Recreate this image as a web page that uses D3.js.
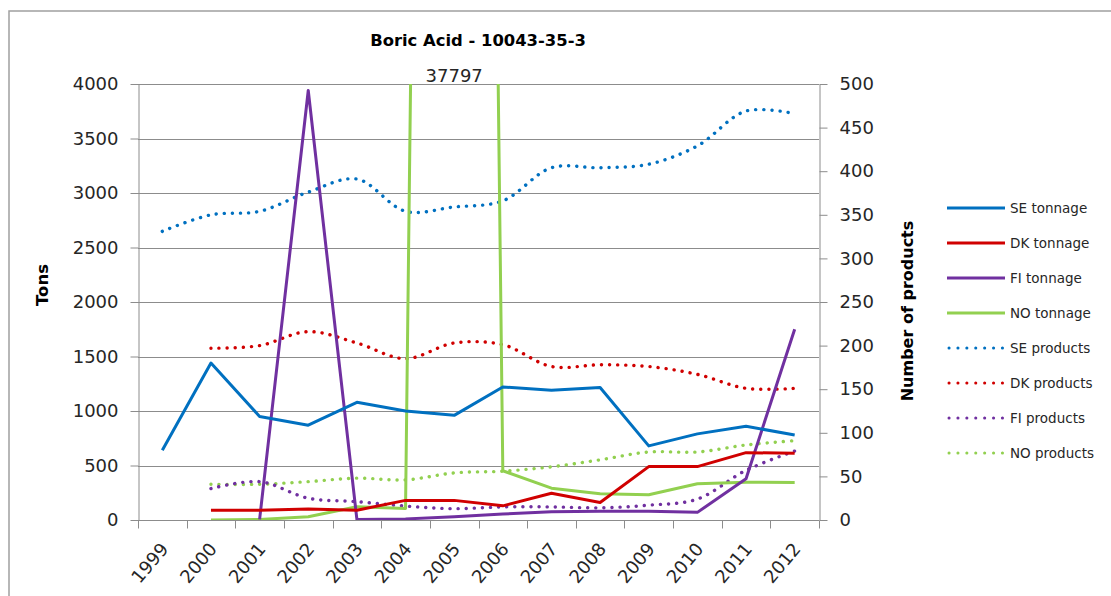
<!DOCTYPE html>
<html>
<head>
<meta charset="utf-8">
<script src="https://cdn.jsdelivr.net/npm/d3@7"></script>
<style>
body { margin: 0; background: #fff; }
svg { font-family: "DejaVu Sans", sans-serif; }
</style>
</head>
<body>
<svg id="chart" width="1111" height="596"></svg>
<script>
// years on the category axis
var years = ['1999', '2000', '2001', '2002', '2003', '2004', '2005', '2006',
	'2007', '2008', '2009', '2010', '2011', '2012'];

// tonnage, left axis (null = no value)
var seTonnage = [640, 1440, 950, 870, 1080, 1000, 960, 1220, 1190, 1215, 680, 790, 860, 780];
var dkTonnage = [null, 90, 90, 100, 90, 180, 180, 130, 245, 160, 490, 490, 618, 612];
var fiTonnage = [null, null, 5, 3940, 5, 10, 30, 55, 75, 80, 80, 70, 378, 1750];
var noTonnage = [null, 0, 5, 30, 122, 105, 37797, 452, 292, 240, 231, 332, 346, 344];

// number of products, right axis
var seProducts = [331, 350, 354, 376, 391, 354, 359, 366, 404, 404, 408, 429, 469, 466];
var dkProducts = [null, 197, 200, 216, 203, 185, 203, 201, 176, 178, 176, 167, 151, 151];
var fiProducts = [null, 36, 44, 25, 21, 16, 13, 15, 15, 14, 17, 24, 57, 79];
var noProducts = [null, 41, 41, 44, 48, 46, 54, 56, 61, 69, 78, 78, 86, 91];

var tonTicks = [0, 500, 1000, 1500, 2000, 2500, 3000, 3500, 4000];
var productTicks = [0, 50, 100, 150, 200, 250, 300, 350, 400, 450, 500];

var series = [
	{name: 'SE tonnage', values: seTonnage, color: '#0070C0', axis: 'left', dotted: false},
	{name: 'DK tonnage', values: dkTonnage, color: '#D00000', axis: 'left', dotted: false},
	{name: 'FI tonnage', values: fiTonnage, color: '#7030A0', axis: 'left', dotted: false},
	{name: 'NO tonnage', values: noTonnage, color: '#92D050', axis: 'left', dotted: false},
	{name: 'SE products', values: seProducts, color: '#0070C0', axis: 'right', dotted: true},
	{name: 'DK products', values: dkProducts, color: '#D00000', axis: 'right', dotted: true},
	{name: 'FI products', values: fiProducts, color: '#7030A0', axis: 'right', dotted: true},
	{name: 'NO products', values: noProducts, color: '#92D050', axis: 'right', dotted: true}
];

var plot = {left: 138, right: 819, top: 84, bottom: 520};
var gridColor = '#8c8c8c';
var textColor = '#262626';

var svg = d3.select('#chart');

// outer chart border
svg.append('rect')
	.attr('x', 9).attr('y', 11)
	.attr('width', 1120).attr('height', 600)
	.attr('fill', 'none').attr('stroke', '#a0a0a0').attr('stroke-width', 1.5);

var x = d3.scaleBand().domain(years).range([plot.left, plot.right]);
var yLeft = d3.scaleLinear().domain([0, 4000]).range([plot.bottom, plot.top]);
var yRight = d3.scaleLinear().domain([0, 500]).range([plot.bottom, plot.top]);

// gridlines
svg.append('g').selectAll('line')
	.data(tonTicks)
	.enter().append('line')
	.attr('x1', plot.left).attr('x2', plot.right)
	.attr('y1', function (d) { return Math.round(yLeft(d)) + 0.5; })
	.attr('y2', function (d) { return Math.round(yLeft(d)) + 0.5; })
	.attr('stroke', gridColor).attr('stroke-width', 1);

function styleAxis(g) {
	g.selectAll('.domain').attr('stroke', gridColor);
	g.selectAll('.tick line').attr('stroke', gridColor);
	g.selectAll('text').attr('fill', textColor).attr('font-size', 18)
		.attr('font-family', '"DejaVu Sans", sans-serif');
}

svg.append('g')
	.attr('transform', 'translate(' + (plot.left + 0.5) + ',0)')
	.call(d3.axisLeft(yLeft).tickValues(tonTicks).tickFormat(d3.format('d'))
		.tickSize(8).tickSizeOuter(0).tickPadding(12))
	.call(styleAxis);

svg.append('g')
	.attr('transform', 'translate(' + (plot.right + 0.5) + ',0)')
	.call(d3.axisRight(yRight).tickValues(productTicks).tickFormat(d3.format('d'))
		.tickSize(8).tickSizeOuter(0).tickPadding(12))
	.call(styleAxis);

// category axis: ticks sit on the band edges
var bottom = svg.append('g')
	.attr('transform', 'translate(0,' + (plot.bottom + 0.5) + ')');
bottom.append('line')
	.attr('x1', plot.left).attr('x2', plot.right)
	.attr('stroke', gridColor);
bottom.selectAll('.edge')
	.data(years.concat(['end']))
	.enter().append('line')
	.attr('class', 'edge')
	.attr('x1', function (d, i) { return Math.round(plot.left + i * x.step()) + 0.5; })
	.attr('x2', function (d, i) { return Math.round(plot.left + i * x.step()) + 0.5; })
	.attr('y1', 0).attr('y2', 8)
	.attr('stroke', gridColor);
bottom.selectAll('text')
	.data(years)
	.enter().append('text')
	.attr('transform', function (d) {
		return 'translate(' + (x(d) + x.bandwidth() / 2 + 7) + ',29) rotate(-50)';
	})
	.attr('text-anchor', 'end')
	.attr('font-size', 18)
	.attr('fill', textColor)
	.text(function (d) { return d; });

// series
svg.append('clipPath').attr('id', 'plotClip')
	.append('rect')
	.attr('x', plot.left).attr('y', plot.top)
	.attr('width', plot.right - plot.left).attr('height', plot.bottom - plot.top);

var lines = svg.append('g').attr('clip-path', 'url(#plotClip)');

series.slice().reverse().forEach(function (s) {
	var scale = s.axis === 'left' ? yLeft : yRight;
	var line = d3.line()
		.defined(function (d) { return d != null; })
		.x(function (d, i) { return x(years[i]) + x.bandwidth() / 2; })
		.y(function (d) { return scale(d); });
	if (s.dotted) { line.curve(d3.curveCatmullRom.alpha(0.5)); }
	var path = lines.append('path')
		.datum(s.values)
		.attr('d', line)
		.attr('fill', 'none')
		.attr('stroke', s.color)
		.attr('stroke-width', s.dotted ? 3.4 : 3)
		.attr('stroke-linejoin', 'round');
	if (s.dotted) {
		path.attr('stroke-dasharray', '0.1 8').attr('stroke-linecap', 'round');
	}
});

// value label for the off-scale NO point
var spikeIndex = noTonnage.indexOf(d3.max(noTonnage));
svg.append('text')
	.attr('x', x(years[spikeIndex]) + x.bandwidth() / 2)
	.attr('y', plot.top - 2)
	.attr('text-anchor', 'middle')
	.attr('font-size', 18)
	.attr('fill', textColor)
	.text(noTonnage[spikeIndex]);

// title and axis titles
svg.append('text')
	.attr('x', 478).attr('y', 46)
	.attr('text-anchor', 'middle')
	.attr('font-size', 16.4).attr('font-weight', 'bold')
	.attr('fill', '#000')
	.text('Boric Acid - 10043-35-3');

svg.append('text')
	.attr('transform', 'translate(48,285) rotate(-90)')
	.attr('text-anchor', 'middle')
	.attr('font-size', 16.5).attr('font-weight', 'bold')
	.text('Tons');

svg.append('text')
	.attr('transform', 'translate(913,311) rotate(-90)')
	.attr('text-anchor', 'middle')
	.attr('font-size', 16).attr('font-weight', 'bold')
	.text('Number of products');

// legend
var legend = svg.append('g').selectAll('g')
	.data(series)
	.enter().append('g')
	.attr('transform', function (d, i) { return 'translate(947,' + (208 + i * 35) + ')'; });
legend.append('line')
	.attr('x1', function (d) { return d.dotted ? 2 : 0; })
	.attr('x2', 58)
	.attr('stroke', function (d) { return d.color; })
	.attr('stroke-width', 3)
	.attr('stroke-linecap', function (d) { return d.dotted ? 'round' : 'butt'; })
	.attr('stroke-dasharray', function (d) { return d.dotted ? '0.1 8.8' : null; });
legend.append('text')
	.attr('x', 63).attr('dy', '0.35em')
	.attr('font-size', 13.5)
	.attr('fill', textColor)
	.text(function (d) { return d.name; });
</script>
</body>
</html>
